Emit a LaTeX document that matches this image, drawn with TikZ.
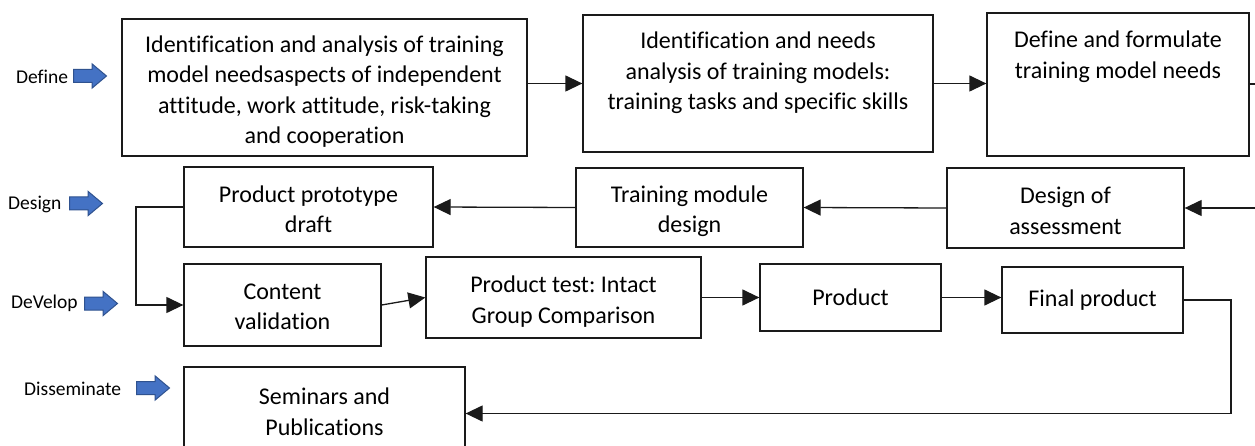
\documentclass[tikz,border=0pt]{standalone}
\usepackage{fontspec}
\setmainfont{Carlito}[Ligatures={NoCommon}]
\usetikzlibrary{shapes.arrows,arrows.meta}
\definecolor{arrfill}{HTML}{4472C4}
\definecolor{arredge}{HTML}{2F528F}
\definecolor{lin}{HTML}{1A1A1A}
\tikzset{
  box/.style={draw=lin, line width=1.3pt, rectangle, inner sep=0pt},
  boxtext/.style={inner sep=0pt, align=center, font=\fontsize{24}{30.5}\selectfont},
  stagelabel/.style={inner sep=0pt, anchor=west, font=\fontsize{19.5}{23}\selectfont},
  stagearrow/.style={single arrow, draw=arredge, fill=arrfill, line width=1pt,
    inner sep=0pt, minimum height=33pt,
    single arrow head extend=5.5pt, single arrow tip angle=80, anchor=west},
  conn/.style={draw=lin, line width=1.3pt},
  arr/.style={conn, -{Triangle[length=17pt,width=16pt]}},
}
\newcommand{\shaft}{\rule{0pt}{12pt}}
\begin{document}
\frenchspacing
\begin{tikzpicture}[x=1pt,y=-1pt]
\clip (0,0) rectangle (1255,446);
\fill[white] (0,0) rectangle (1255,446);

% stage labels
\node[stagelabel] (lDefine) at (16,77) {Define};
\node[stagearrow] (aDefine) at (73,76) {\shaft};
\node[stagelabel] (lDesign) at (8,204) {Design};
\node[stagearrow] (aDesign) at (69,203.5) {\shaft};
\node[stagelabel] (lDevelop) at (11,303) {DeVelop};
\node[stagearrow] (aDevelop) at (84,303.5) {\shaft};
\node[stagelabel] (lDissem) at (24,389) {Disseminate};
\node[stagearrow] (aDissem) at (136,388) {\shaft};

% define row
\node[box, minimum width=405pt, minimum height=137pt] (B1) at (324.5,87.5) {};
\node[boxtext] (B1t) at ([yshift=-4pt]B1.center)
  {Identification and analysis of training\\model needsaspects of independent\\attitude, work attitude, risk-taking\\and cooperation};
\node[box, minimum width=350pt, minimum height=137pt] (B2) at (758,83.5) {};
\node[boxtext] (B2t) at (758,73) {Identification and needs\\analysis of training models:\\training tasks and specific skills};
\node[box, minimum width=262pt, minimum height=143pt] (B3) at (1118,84.5) {};
\node[boxtext] (B3t) at (1118,56.5) {Define and formulate\\training model needs};

% design row
\node[box, minimum width=237pt, minimum height=80pt] (D1) at (1065.5,208) {};
\node[boxtext] (D1t) at ([yshift=-3pt]D1.center) {Design of\\assessment};
\node[box, minimum width=227pt, minimum height=79pt] (D2) at (689.5,207.5) {};
\node[boxtext] (D2t) at ([yshift=-3.5pt]D2.center) {Training module\\design};
\node[box, minimum width=249pt, minimum height=80pt] (D3) at (308.5,207) {};
\node[boxtext] (D3t) at ([yshift=-2.5pt]D3.center) {Product prototype\\draft};

% develop row
\node[box, minimum width=197pt, minimum height=82pt] (V1) at (282.5,305) {};
\node[boxtext] (V1t) at ([yshift=-2pt]V1.center) {Content\\validation};
\node[box, minimum width=275pt, minimum height=81pt] (V2) at (563.5,297.5) {};
\node[boxtext] (V2t) at ([yshift=-4pt]V2.center) {Product test: Intact\\Group Comparison};
\node[box, minimum width=181pt, minimum height=67pt] (V3) at (850.5,297.5) {};
\node[boxtext] (V3t) at (V3.center) {Product};
\node[box, minimum width=181pt, minimum height=66pt] (V4) at (1092.5,300) {};
\node[boxtext] (V4t) at (V4.center) {Final product};

% disseminate row
\node[box, minimum width=281pt, minimum height=88pt] (S1) at (324.5,411) {};
\node[boxtext] (S1t) at ([yshift=-1pt]S1.center) {Seminars and\\Publications};

% edge coordinates
\coordinate (eOut) at (1258,84);
\coordinate (eIn) at (1258,208);
\coordinate (jL) at (136,207);
\coordinate (jR) at (1231,300);

% connectors
\draw[arr] (B1.east |- B2.west) -- (B2.west);
\draw[arr] (B2.east) -- (B2.east -| B3.west);
\draw[conn] (B3.east |- eOut) -- (eOut);
\draw[arr] (eIn) -- (D1.east);
\draw[arr] (D1.west) -- (D2.east);
\draw[arr] (D2.west) -- (D3.east);
\draw[arr] (D3.west) -- (jL) |- (V1.west);
\draw[arr] (V1.east) -- (V2.west);
\draw[arr] (V2.east) -- (V3.west);
\draw[arr] (V3.east) -- (V3.east -| V4.west);
\draw[arr] (V4.east) -- (jR) |- ([yshift=-2.5pt]S1.east);
\end{tikzpicture}
\end{document}
